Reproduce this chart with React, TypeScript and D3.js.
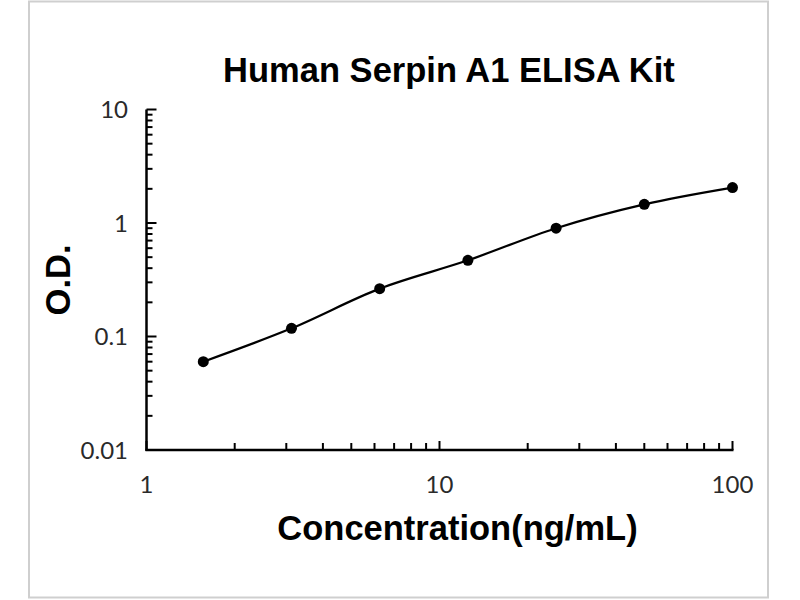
import React from "react";
import * as d3 from "d3";

const concentrations = [1.5625, 3.125, 6.25, 12.5, 25, 50, 100];
const odValues = [0.06, 0.118, 0.264, 0.469, 0.9, 1.46, 2.05];
const xTickLabels = [1, 10, 100];
const yTickLabels = [0.01, 0.1, 1, 10];
const title = "Human Serpin A1 ELISA Kit";
const xTitle = "Concentration(ng/mL)";
const yTitle = "O.D.";

export default function App() {
  const W = 800, H = 600;
  const x = d3.scaleLog().domain([1, 100]).range([146.5, 732.5]);
  const y = d3.scaleLog().domain([0.01, 10]).range([450, 109.5]);

  const xMinor: number[] = [];
  for (let d = 1; d <= 10; d *= 10) for (let k = 2; k <= 9; k++) xMinor.push(k * d);
  const yMinor: number[] = [];
  for (let d = 0.01; d < 10; d *= 10) for (let k = 2; k <= 9; k++) yMinor.push(k * d);

  const pts = concentrations.map((c, i) => [x(c), y(odValues[i])] as [number, number]);
  const line = d3.line().curve(d3.curveMonotoneX)(pts) || "";

  const labelFont = "Lato, 'Open Sans', sans-serif";
  const boldFont = "'Liberation Sans', Arial, sans-serif";
  const x0 = x.range()[0];
  const yBase = y.range()[0];

  return (
    <svg width={W} height={H} style={{ position: "absolute", left: 0, top: 0, background: "#fff" }}>
      <rect x={29} y={1.5} width={739} height={596} fill="#fff" stroke="#cfcfcf" strokeWidth={2} />
      <text x={449} y={82} textAnchor="middle" fontFamily={boldFont} fontWeight="bold" fontSize={34.5} fill="#000">
        {title}
      </text>
      {/* y axis */}
      <line x1={x0} x2={x0} y1={y.range()[1]} y2={yBase + 1} stroke="#000" strokeWidth={2.5} />
      {yTickLabels.map((v) => (
        <g key={"ym" + v}>
          <line x1={x0} x2={x0 + 10} y1={y(v)} y2={y(v)} stroke="#000" strokeWidth={2} />
          <text x={128} y={y(v) + 8.5} textAnchor="end" fontFamily={labelFont} fontSize={24} fill="#2a2a2a">
            {String(v)}
          </text>
        </g>
      ))}
      {yMinor.map((v, i) => (
        <line key={"yn" + i} x1={x0} x2={x0 + 6} y1={y(v)} y2={y(v)} stroke="#000" strokeWidth={2} />
      ))}
      {/* x axis */}
      <line x1={x0 - 1} x2={x.range()[1] + 1} y1={yBase} y2={yBase} stroke="#000" strokeWidth={2.5} />
      {xTickLabels.map((v) => (
        <g key={"xm" + v}>
          <line x1={x(v)} x2={x(v)} y1={yBase} y2={yBase - 9} stroke="#000" strokeWidth={2} />
          <text x={x(v)} y={493} textAnchor="middle" fontFamily={labelFont} fontSize={24} fill="#2a2a2a">
            {String(v)}
          </text>
        </g>
      ))}
      {xMinor.map((v, i) => (
        <line key={"xn" + i} x1={x(v)} x2={x(v)} y1={yBase} y2={yBase - 7} stroke="#000" strokeWidth={2} />
      ))}
      <text x={457.5} y={540} textAnchor="middle" fontFamily={boldFont} fontWeight="bold" fontSize={34.5} fill="#000">
        {xTitle}
      </text>
      <text
        transform={`translate(70,${280}) rotate(-90)`}
        textAnchor="middle"
        fontFamily={boldFont}
        fontWeight="bold"
        fontSize={34.5}
        fill="#000"
      >
        {yTitle}
      </text>
      <path d={line} fill="none" stroke="#000" strokeWidth={2.2} />
      {pts.map((p, i) => (
        <circle key={"p" + i} cx={p[0]} cy={p[1]} r={5.5} fill="#000" />
      ))}
    </svg>
  );
}
